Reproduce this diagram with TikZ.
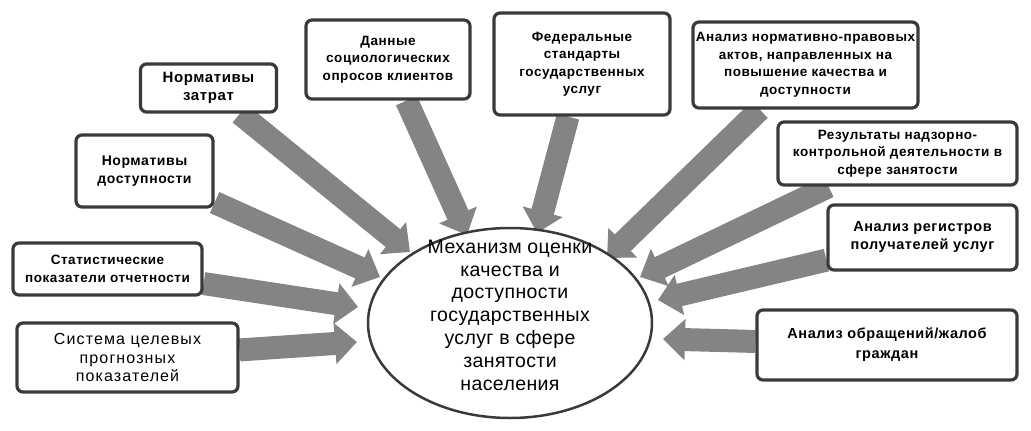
\documentclass[tikz,border=0pt]{standalone}
\usepackage{fontspec}
\setmainfont{Liberation Sans}
\newfontfamily\boxfont[LetterSpace=4]{Liberation Sans}
\newfontfamily\widefont[LetterSpace=7]{Liberation Sans}
\newfontfamily\ellfont[LetterSpace=2]{Liberation Sans}
\usetikzlibrary{arrows.meta,backgrounds,shapes.geometric}
\definecolor{arrowgray}{RGB}{132,132,132}
\definecolor{framegray}{RGB}{58,58,58}
\begin{document}
\begin{tikzpicture}[x=1pt,y=-1pt,
  srcbox/.style={draw=framegray, line width=3.2pt, rounded corners=6pt, fill=white,
    align=center, inner sep=0pt, text=black,
    font=\boxfont\bfseries\fontsize{13.5}{17.5}\selectfont},
  bigarrow/.style={draw=arrowgray, line width=23pt,
    -{Triangle[width=40pt,length=22pt]}}
]
\useasboundingbox (0,0) rectangle (1031,431);

% source boxes
\node[srcbox, minimum width=136pt, minimum height=48pt,
  font=\boxfont\bfseries\fontsize{15}{18}\selectfont] (b1) at (208.5,88)
  {Нормативы\\затрат};
\node[srcbox, minimum width=164pt, minimum height=79pt] (b2) at (388,59.5)
  {Данные\\социологических\\опросов клиентов};
\node[srcbox, minimum width=137pt, minimum height=72pt,
  font=\boxfont\bfseries\fontsize{14}{18}\selectfont] (b3) at (144.5,171)
  {Нормативы\\доступности};
\node[srcbox, minimum width=176pt, minimum height=102pt] (b4) at (582,64)
  {Федеральные\\стандарты\\государственных\\услуг};
\node[srcbox, minimum width=225pt, minimum height=86pt] (b5) at (805.5,65)
  {Анализ нормативно-правовых\\актов, направленных на\\повышение качества и\\доступности};
\node[srcbox, minimum width=239pt, minimum height=63pt] (b6) at (897.5,153.5)
  {Результаты надзорно-\\контрольной деятельности в\\сфере занятости};
\node[srcbox, minimum width=189pt, minimum height=65pt,
  font=\boxfont\bfseries\fontsize{14.5}{18}\selectfont] (b7) at (922.5,237.5)
  {Анализ регистров\\получателей услуг};
\node[srcbox, minimum width=260pt, minimum height=70pt,
  font=\boxfont\bfseries\fontsize{14.5}{20}\selectfont] (b8) at (887,345)
  {Анализ обращений/жалоб\\граждан};
\node[srcbox, minimum width=189pt, minimum height=52pt] (b9) at (107.5,269)
  {Статистические\\показатели отчетности};
\node[srcbox, minimum width=221pt, minimum height=69pt,
  font=\widefont\fontsize{16}{18.5}\selectfont] (b10) at (127.5,357.5)
  {Система целевых\\прогнозных\\показателей};

% central ellipse
\node[ellipse, draw=framegray, line width=2.5pt, fill=white,
  minimum width=284pt, minimum height=190pt, inner sep=0pt] (ell) at (510,323) {};
\node[align=center, inner sep=0pt, text=black,
  font=\ellfont\fontsize{19.5}{22.8}\selectfont] (elltext) at (510,315)
  {Механизм оценки\\качества и\\доступности\\государственных\\услуг в сфере\\занятости\\населения};

% arrow tips near the ellipse
\coordinate (t1) at (410,252);
\coordinate (t2) at (467,235);
\coordinate (t3) at (380,277);
\coordinate (t4) at (537,233);
\coordinate (t5) at (607,258);
\coordinate (t6) at (640,277);
\coordinate (t7) at (658,300);
\coordinate (t8) at (663,339);
\coordinate (t9) at (358,307);
\coordinate (t10) at (357,342);

\begin{scope}[on background layer]
  \draw[bigarrow] (b1) -- (t1);
  \draw[bigarrow] (b2) -- (t2);
  \draw[bigarrow] (b3) -- (t3);
  \draw[bigarrow] (b4) -- (t4);
  \draw[bigarrow] (b5) -- (t5);
  \draw[bigarrow] (b6) -- (t6);
  \draw[bigarrow] (b7) -- (t7);
  \draw[bigarrow] (b8) -- (t8);
  \draw[bigarrow] (b9) -- (t9);
  \draw[bigarrow] (b10) -- (t10);
\end{scope}
\end{tikzpicture}
\end{document}
